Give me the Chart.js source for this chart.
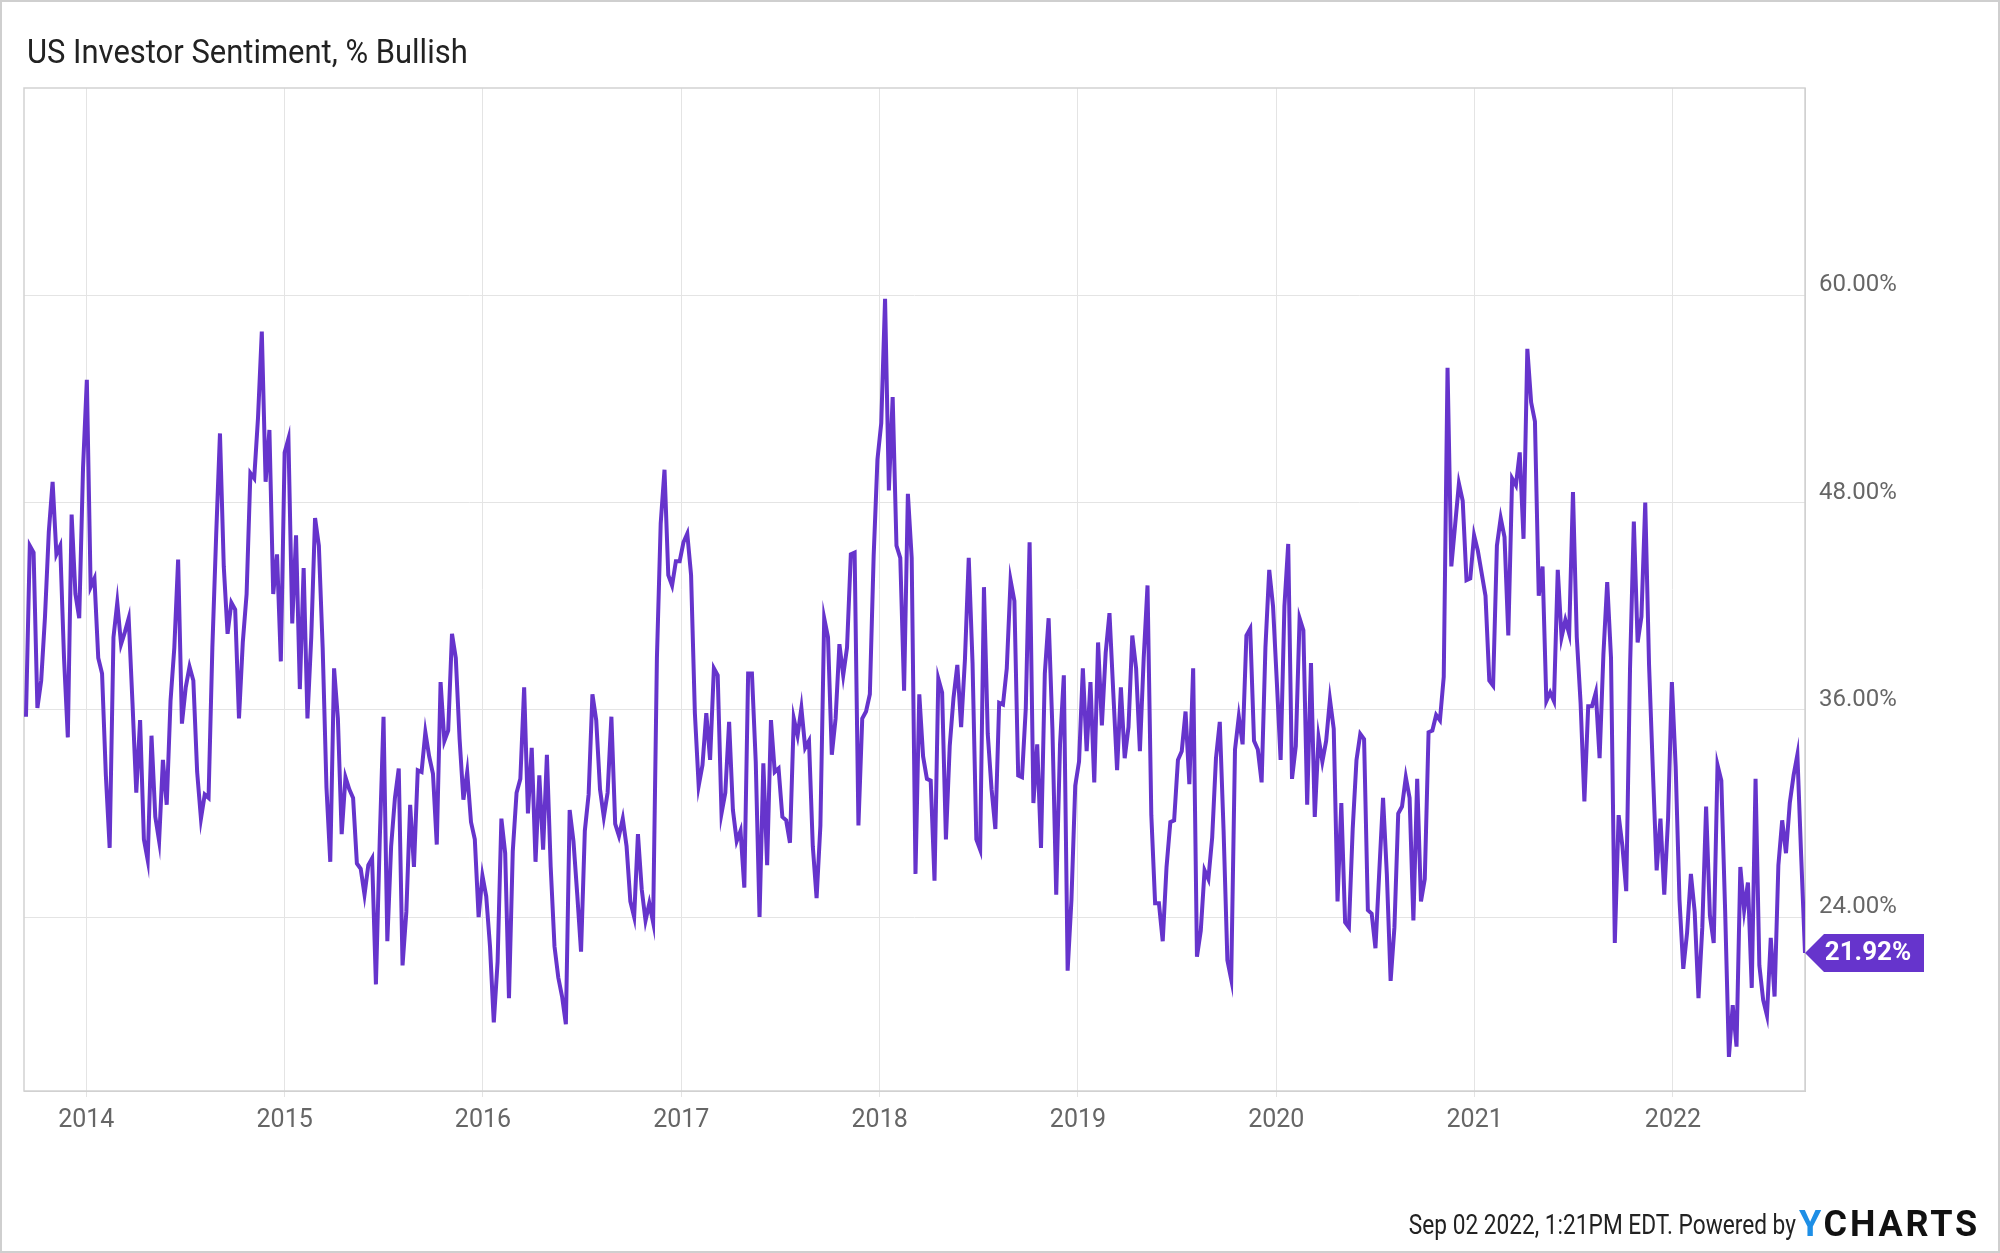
<!DOCTYPE html>
<html>
<head>
<meta charset="utf-8">
<script src="https://cdn.jsdelivr.net/npm/chart.js@4.4.1/dist/chart.umd.min.js"></script>
<style>
html, body { margin: 0; padding: 0; background: #fff; }
#wrap { position: relative; width: 2000px; height: 1253px; overflow: hidden; font-family: Roboto, sans-serif; }
#chart { position: absolute; left: 0; top: 0; }
#title { position: absolute; left: 27px; top: 34px; font-size: 34px; line-height: 34px; color: #222; white-space: nowrap; transform: scaleX(0.91); transform-origin: left top; }
#stamp { position: absolute; right: 204px; top: 1211px; font-size: 28px; line-height: 28px; color: #222; white-space: nowrap; transform: scaleX(0.81); transform-origin: right top; }
#logo { position: absolute; left: 1799px; top: 1206px; font-size: 36px; line-height: 36px; font-weight: bold; letter-spacing: 2.8px; color: #111; white-space: nowrap; }
#logo span { color: #1e8fe6; }
</style>
</head>
<body>
<div id="wrap">
  <canvas id="chart" width="2000" height="1253"></canvas>
  <div id="title">US Investor Sentiment, % Bullish</div>
  <div id="stamp">Sep 02 2022, 1:21PM EDT. Powered by</div>
  <div id="logo"><span>Y</span>CHARTS</div>
</div>
<script>
// weekly AAII bullish readings
var firstWeek = '2013-09-12'
var weekStep = 7

var bullishSep13toMar15 = [35.6, 45.5, 45.1, 36.1, 37.7, 41.4, 46.3, 49.2, 45.0, 45.5, 39.0, 34.4, 47.3, 42.7, 41.3, 50.0,
  55.1, 43.1, 43.6, 39.0, 38.1, 32.2, 28.0, 40.2, 42.2, 39.8, 40.5, 41.3, 36.4, 31.2, 35.4, 28.5, 27.3, 34.5, 29.8, 28.4,
  33.1, 30.5, 36.5, 39.6, 44.7, 35.2, 37.3, 38.5, 37.7, 32.4, 29.7, 31.1, 30.9, 39.6, 46.1, 52.0, 44.3, 40.4, 42.2, 41.8,
  35.5, 39.9, 42.7, 49.7, 49.4, 52.9, 57.9, 49.2, 52.2, 42.7, 45.0, 38.8, 50.9, 51.7, 41.0, 46.1, 37.2, 44.2, 35.5, 40.2,
  47.1, 45.5]
var bullishMar15toSep16 = [39.6, 31.5, 27.2, 38.4, 35.5, 28.8, 32.1, 31.4, 30.9, 27.1, 26.8, 25.3, 27.0, 27.4, 20.1, 28.4,
  35.6, 22.6, 28.1, 30.9, 32.6, 21.2, 24.3, 30.5, 26.9, 32.5, 32.4, 34.7, 33.3, 32.3, 28.2, 37.6, 34.2, 34.8, 40.4, 39.0,
  34.3, 30.8, 32.4, 29.5, 28.5, 24.0, 26.4, 25.2, 22.3, 17.9, 21.4, 29.7, 27.7, 19.3, 27.8, 31.2, 32.0, 37.3, 30.0, 33.8,
  27.2, 32.2, 27.9, 33.4, 26.9, 22.3, 20.5, 19.4, 17.8, 30.2, 28.4, 25.3, 22.0, 29.0, 31.1, 36.9, 35.4, 31.4, 29.8, 31.2,
  35.6, 29.4]
var bullishSep16toMar18 = [28.7, 29.7, 28.1, 24.9, 24.0, 28.8, 25.6, 23.8, 24.8, 23.7, 39.0, 46.8, 49.9, 43.8, 43.2, 44.6,
  44.6, 45.7, 46.2, 43.8, 35.8, 31.6, 32.8, 35.8, 33.1, 38.4, 38.0, 30.0, 31.2, 35.3, 30.2, 28.4, 29.0, 25.7, 38.1, 38.1,
  33.0, 24.0, 32.9, 27.0, 35.4, 32.4, 32.6, 29.8, 29.6, 28.3, 35.5, 34.5, 36.1, 33.8, 34.2, 28.1, 25.1, 29.3, 41.3, 40.2,
  33.4, 35.5, 39.8, 38.0, 39.6, 45.0, 45.1, 29.3, 35.5, 35.9, 36.9, 44.9, 50.5, 52.6, 59.8, 48.7, 54.1, 45.5, 44.8, 37.1,
  48.5, 44.8]
var bullishMar18toSep19 = [26.5, 36.9, 33.3, 32.0, 31.9, 26.1, 37.8, 37.0, 28.5, 33.9, 36.7, 38.6, 35.0, 38.9, 44.8, 38.7,
  28.5, 27.9, 43.1, 34.6, 31.4, 29.1, 36.4, 36.3, 38.4, 43.5, 42.3, 32.2, 32.1, 36.1, 45.7, 30.6, 34.0, 28.0, 38.1, 41.3,
  34.9, 25.3, 34.0, 38.0, 20.9, 25.0, 31.6, 33.0, 38.4, 33.6, 37.6, 31.8, 39.9, 35.1, 39.3, 41.6, 37.0, 32.5, 37.3, 33.2,
  35.0, 40.3, 38.4, 33.6, 39.0, 43.2, 29.9, 24.8, 24.8, 22.6, 26.9, 29.5, 29.6, 33.1, 33.6, 35.9, 31.7, 38.4, 21.7, 23.2,
  26.7]
var bullishSep19toMar21 = [26.2, 28.6, 33.2, 35.3, 29.0, 21.5, 20.4, 33.7, 35.6, 34.0, 40.3, 40.7, 34.2, 33.7, 31.8, 39.6,
  44.1, 42.0, 37.6, 33.1, 42.0, 45.6, 32.0, 33.9, 41.3, 40.6, 30.5, 38.7, 29.8, 34.4, 33.0, 34.2, 36.6, 34.9, 24.9, 30.6,
  23.7, 23.4, 29.1, 33.1, 34.6, 34.3, 24.4, 24.2, 22.2, 26.6, 30.9, 26.5, 20.3, 23.4, 30.0, 30.4, 32.1, 30.9, 23.8, 32.0,
  24.9, 26.2, 34.7, 34.8, 35.7, 35.4, 37.9, 55.8, 44.3, 46.7, 49.1, 48.1, 43.5, 43.6, 46.1, 45.2, 43.9, 42.6, 37.7, 37.4,
  45.5, 47.1]
var bullishMar21toSep22 = [46.0, 40.3, 49.4, 49.0, 50.9, 45.9, 56.9, 53.8, 52.7, 42.6, 44.3, 36.5, 37.0, 36.5, 44.1, 40.2,
  41.2, 40.4, 48.6, 40.2, 36.4, 30.7, 36.2, 36.2, 37.0, 33.2, 39.2, 43.4, 39.0, 22.5, 29.9, 28.1, 25.5, 38.4, 46.9, 39.9,
  41.4, 48.0, 38.6, 32.5, 26.7, 29.7, 25.3, 29.7, 37.6, 32.7, 25.0, 21.0, 23.1, 26.5, 24.3, 19.3, 23.4, 30.4, 24.1, 22.5,
  32.8, 31.9, 24.4, 15.9, 18.9, 16.5, 26.9, 24.4, 26.0, 19.9, 32.0, 21.2, 19.2, 18.3, 22.8, 19.4, 27.0, 29.6, 27.7, 30.6,
  32.2, 33.4, 27.5, 21.92]

var yearTicks = [2014, 2015, 2016, 2017, 2018, 2019, 2020, 2021, 2022]
var pctTicks = [24, 36, 48, 60]

var bullish = [].concat(bullishSep13toMar15, bullishMar15toSep16, bullishSep16toMar18,
  bullishMar18toSep19, bullishSep19toMar21, bullishMar21toSep22)

function yearFrac(t) {
  var d = new Date(t)
  var y = d.getUTCFullYear()
  var a = Date.UTC(y, 0, 1), b = Date.UTC(y + 1, 0, 1)
  return y + (t - a) / (b - a)
}

var t0 = Date.parse(firstWeek + 'T00:00:00Z')
var points = bullish.map(function (v, i) {
  return { x: yearFrac(t0 + i * weekStep * 86400000), y: v }
})

var purple = '#6634cc'

var frame = {
  id: 'frame',
  beforeDraw: function (chart) {
    var c = chart.ctx
    c.save()
    c.strokeStyle = '#cfcfcf'
    c.lineWidth = 2
    c.strokeRect(1, 1, chart.width - 2, chart.height - 2)
    c.restore()
  },
  beforeDatasetsDraw: function (chart) {
    var c = chart.ctx, a = chart.chartArea
    c.save()
    c.strokeStyle = '#d2d2d2'
    c.lineWidth = 1.5
    c.strokeRect(a.left, a.top, a.right - a.left, a.bottom - a.top)
    c.restore()
  }
}

// purple flag with the latest reading
var lastFlag = {
  id: 'lastFlag',
  afterDatasetsDraw: function (chart) {
    var c = chart.ctx
    var last = bullish[bullish.length - 1]
    var x = chart.chartArea.right
    var y = chart.scales.y.getPixelForValue(last)
    c.save()
    c.fillStyle = purple
    c.beginPath()
    c.moveTo(x, y)
    c.lineTo(x + 19, y - 19)
    c.lineTo(x + 119, y - 19)
    c.lineTo(x + 119, y + 19)
    c.lineTo(x + 19, y + 19)
    c.closePath()
    c.fill()
    c.fillStyle = '#fff'
    c.font = 'bold 26px Roboto'
    c.textAlign = 'center'
    c.textBaseline = 'middle'
    c.fillText(last.toFixed(2) + '%', x + 63, y + 1)
    c.restore()
  }
}

var myChart = new Chart(document.getElementById('chart'), {
  type: 'line',
  data: {
    datasets: [{
      label: 'US Investor Sentiment, % Bullish',
      data: points,
      borderColor: purple,
      borderWidth: 4,
      pointRadius: 0,
      tension: 0,
      fill: false
    }]
  },
  options: {
    responsive: false,
    animation: false,
    layout: { padding: { left: 24, top: 88, right: 0, bottom: 102 } },
    plugins: {
      legend: { display: false },
      tooltip: { enabled: false }
    },
    scales: {
      x: {
        type: 'linear',
        min: points[0].x - 0.01,
        max: points[points.length - 1].x,
        afterBuildTicks: function (s) { s.ticks = yearTicks.map(function (v) { return { value: v } }) },
        afterFit: function (s) { s.height = 60 },
        grid: { color: '#e4e4e4', lineWidth: 1, tickLength: 6 },
        border: { display: true, color: '#cccccc' },
        ticks: {
          autoSkip: false, maxRotation: 0, padding: 9,
          color: '#666', font: { family: 'Roboto', size: 25 },
          callback: function (v) { return String(v) }
        }
      },
      y: {
        type: 'linear',
        position: 'right',
        min: 13.93,
        max: 72,
        afterBuildTicks: function (s) { s.ticks = pctTicks.map(function (v) { return { value: v } }) },
        afterFit: function (s) { s.width = 195 },
        grid: { color: '#e4e4e4', lineWidth: 1, drawTicks: false },
        border: { display: true, color: '#cccccc' },
        ticks: {
          padding: 14, labelOffset: -10,
          color: '#666', font: { family: 'Roboto', size: 24 },
          callback: function (v) { return v.toFixed(2) + '%' }
        }
      }
    }
  },
  plugins: [frame, lastFlag]
})
</script>
</body>
</html>
